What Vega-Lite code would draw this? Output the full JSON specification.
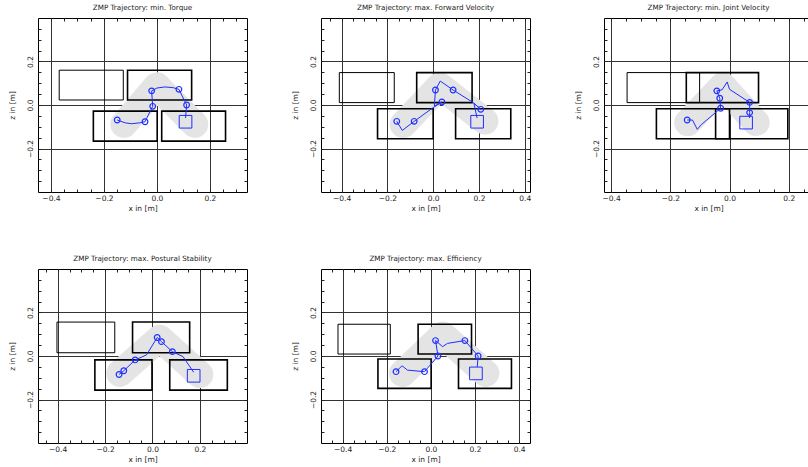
{
"$schema": "https://vega.github.io/schema/vega-lite/v6.json",
"padding": {"left": 7, "top": 3, "right": 0, "bottom": 0},
"bounds": "flush",
"columns": 3,
"spacing": {"row": 77, "column": 74},
"datasets": {
"band": [
{"p":1,"i":0,"x":-0.125,"y":-0.089},{"p":1,"i":1,"x":0.0,"y":0.088},{"p":1,"i":2,"x":0.143,"y":-0.089},
{"p":2,"i":0,"x":-0.131,"y":-0.089},{"p":2,"i":1,"x":0.029,"y":0.088},{"p":2,"i":2,"x":0.226,"y":-0.074},
{"p":3,"i":0,"x":-0.141,"y":-0.081},{"p":3,"i":1,"x":-0.023,"y":0.088},{"p":3,"i":2,"x":0.09,"y":-0.081},
{"p":4,"i":0,"x":-0.138,"y":-0.08},{"p":4,"i":1,"x":0.031,"y":0.082},{"p":4,"i":2,"x":0.2,"y":-0.085},
{"p":5,"i":0,"x":-0.129,"y":-0.08},{"p":5,"i":1,"x":0.053,"y":0.097},{"p":5,"i":2,"x":0.249,"y":-0.08}
],
"feet": [
{"p":1,"kind":"thin","x1":-0.369,"x2":-0.127,"y1":0.023,"y2":0.16},
{"p":1,"kind":"thick","x1":-0.111,"x2":0.131,"y1":0.023,"y2":0.16},
{"p":1,"kind":"thick","x1":-0.24,"x2":0.001,"y1":-0.166,"y2":-0.028},
{"p":1,"kind":"thick","x1":0.018,"x2":0.259,"y1":-0.166,"y2":-0.028},
{"p":2,"kind":"thin","x1":-0.41,"x2":-0.17,"y1":0.011,"y2":0.149},
{"p":2,"kind":"thick","x1":-0.072,"x2":0.17,"y1":0.011,"y2":0.149},
{"p":2,"kind":"thick","x1":-0.243,"x2":0.0,"y1":-0.155,"y2":-0.017},
{"p":2,"kind":"thick","x1":0.098,"x2":0.339,"y1":-0.155,"y2":-0.017},
{"p":3,"kind":"thin","x1":-0.346,"x2":-0.101,"y1":0.011,"y2":0.149},
{"p":3,"kind":"thick","x1":-0.146,"x2":0.098,"y1":0.011,"y2":0.149},
{"p":3,"kind":"thick","x1":-0.247,"x2":0.0,"y1":-0.155,"y2":-0.017},
{"p":3,"kind":"thick","x1":-0.047,"x2":0.197,"y1":-0.155,"y2":-0.017},
{"p":4,"kind":"thin","x1":-0.403,"x2":-0.159,"y1":0.015,"y2":0.156},
{"p":4,"kind":"thick","x1":-0.084,"x2":0.157,"y1":0.015,"y2":0.156},
{"p":4,"kind":"thick","x1":-0.243,"x2":-0.002,"y1":-0.157,"y2":-0.018},
{"p":4,"kind":"thick","x1":0.073,"x2":0.316,"y1":-0.157,"y2":-0.018},
{"p":5,"kind":"thin","x1":-0.421,"x2":-0.184,"y1":0.009,"y2":0.146},
{"p":5,"kind":"thick","x1":-0.058,"x2":0.184,"y1":0.009,"y2":0.146},
{"p":5,"kind":"thick","x1":-0.24,"x2":0.001,"y1":-0.149,"y2":-0.014},
{"p":5,"kind":"thick","x1":0.125,"x2":0.365,"y1":-0.149,"y2":-0.014}
],
"path": [
{"p":1,"i":0,"x":-0.15,"y":-0.069},{"p":1,"i":1,"x":-0.12,"y":-0.082},{"p":1,"i":2,"x":-0.096,"y":-0.086},{"p":1,"i":3,"x":-0.065,"y":-0.082},{"p":1,"i":4,"x":-0.045,"y":-0.077},{"p":1,"i":5,"x":-0.016,"y":-0.006},{"p":1,"i":6,"x":-0.02,"y":0.065},{"p":1,"i":7,"x":0.0,"y":0.078},{"p":1,"i":8,"x":0.03,"y":0.083},{"p":1,"i":9,"x":0.06,"y":0.08},{"p":1,"i":10,"x":0.083,"y":0.072},{"p":1,"i":11,"x":0.112,"y":0.0},{"p":1,"i":12,"x":0.108,"y":-0.06},
{"p":2,"i":0,"x":-0.159,"y":-0.075},{"p":2,"i":1,"x":-0.135,"y":-0.117},{"p":2,"i":2,"x":-0.083,"y":-0.075},{"p":2,"i":3,"x":0.0,"y":-0.012},{"p":2,"i":4,"x":0.038,"y":0.014},{"p":2,"i":5,"x":0.005,"y":-0.005},{"p":2,"i":6,"x":0.01,"y":0.069},{"p":2,"i":7,"x":0.031,"y":0.11},{"p":2,"i":8,"x":0.087,"y":0.069},{"p":2,"i":9,"x":0.175,"y":0.011},{"p":2,"i":10,"x":0.208,"y":-0.02},{"p":2,"i":11,"x":0.178,"y":0.008},{"p":2,"i":12,"x":0.192,"y":-0.06},
{"p":3,"i":0,"x":-0.143,"y":-0.069},{"p":3,"i":1,"x":-0.125,"y":-0.069},{"p":3,"i":2,"x":-0.109,"y":-0.112},{"p":3,"i":3,"x":-0.095,"y":-0.09},{"p":3,"i":4,"x":-0.03,"y":-0.015},{"p":3,"i":5,"x":-0.033,"y":0.031},{"p":3,"i":6,"x":-0.043,"y":0.065},{"p":3,"i":7,"x":-0.025,"y":0.07},{"p":3,"i":8,"x":-0.008,"y":0.106},{"p":3,"i":9,"x":0.0,"y":0.072},{"p":3,"i":10,"x":0.068,"y":0.012},{"p":3,"i":11,"x":0.068,"y":-0.035},{"p":3,"i":12,"x":0.068,"y":-0.06},
{"p":4,"i":0,"x":-0.141,"y":-0.085},{"p":4,"i":1,"x":-0.121,"y":-0.068},{"p":4,"i":2,"x":-0.073,"y":-0.018},{"p":4,"i":3,"x":-0.025,"y":0.005},{"p":4,"i":4,"x":0.02,"y":0.085},{"p":4,"i":5,"x":0.038,"y":0.066},{"p":4,"i":6,"x":0.084,"y":0.02},{"p":4,"i":7,"x":0.129,"y":-0.003},{"p":4,"i":8,"x":0.174,"y":-0.075},
{"p":5,"i":0,"x":-0.158,"y":-0.072},{"p":5,"i":1,"x":-0.131,"y":-0.045},{"p":5,"i":2,"x":-0.106,"y":-0.065},{"p":5,"i":3,"x":-0.029,"y":-0.072},{"p":5,"i":4,"x":0.032,"y":0.0},{"p":5,"i":5,"x":0.021,"y":0.071},{"p":5,"i":6,"x":0.053,"y":0.043},{"p":5,"i":7,"x":0.075,"y":0.058},{"p":5,"i":8,"x":0.154,"y":0.071},{"p":5,"i":9,"x":0.214,"y":0.0},{"p":5,"i":10,"x":0.21,"y":-0.05}
],
"pts": [
{"p":1,"t":"via","x":-0.15,"y":-0.069},{"p":1,"t":"via","x":-0.045,"y":-0.077},{"p":1,"t":"via","x":-0.016,"y":-0.006},{"p":1,"t":"via","x":-0.02,"y":0.065},{"p":1,"t":"via","x":0.083,"y":0.072},{"p":1,"t":"via","x":0.112,"y":0.0},{"p":1,"t":"end","x":0.108,"y":-0.077},
{"p":2,"t":"via","x":-0.159,"y":-0.075},{"p":2,"t":"via","x":-0.083,"y":-0.075},{"p":2,"t":"via","x":0.038,"y":0.014},{"p":2,"t":"via","x":0.01,"y":0.069},{"p":2,"t":"via","x":0.087,"y":0.069},{"p":2,"t":"via","x":0.208,"y":-0.02},{"p":2,"t":"end","x":0.192,"y":-0.077},
{"p":3,"t":"via","x":-0.143,"y":-0.069},{"p":3,"t":"via","x":-0.03,"y":-0.015},{"p":3,"t":"via","x":-0.033,"y":0.031},{"p":3,"t":"via","x":-0.043,"y":0.065},{"p":3,"t":"via","x":0.068,"y":0.012},{"p":3,"t":"via","x":0.068,"y":-0.035},{"p":3,"t":"end","x":0.056,"y":-0.081},
{"p":4,"t":"via","x":-0.141,"y":-0.085},{"p":4,"t":"via","x":-0.121,"y":-0.068},{"p":4,"t":"via","x":-0.073,"y":-0.018},{"p":4,"t":"via","x":0.02,"y":0.085},{"p":4,"t":"via","x":0.038,"y":0.066},{"p":4,"t":"via","x":0.084,"y":0.02},{"p":4,"t":"end","x":0.174,"y":-0.091},
{"p":5,"t":"via","x":-0.158,"y":-0.072},{"p":5,"t":"via","x":-0.029,"y":-0.072},{"p":5,"t":"via","x":0.032,"y":0.0},{"p":5,"t":"via","x":0.021,"y":0.071},{"p":5,"t":"via","x":0.154,"y":0.071},{"p":5,"t":"via","x":0.214,"y":0.0},{"p":5,"t":"end","x":0.204,"y":-0.08}
]
},
"concat": [
{"title": "ZMP Trajectory: min. Torque", "width": 209, "height": 174,
 "resolve": {"axis": {"x": "independent", "y": "independent"}},
 "layer": [
  {"data": {"name": "band"}, "transform": [{"filter": "datum.p == 1"}],
   "mark": {"type": "line", "color": "#e4e4e4", "strokeWidth": 27, "strokeCap": "round", "strokeJoin": "round"},
   "encoding": {
    "x": {"field": "x", "type": "quantitative", "scale": {"domain": [-0.449, 0.34], "nice": false, "zero": false},
      "axis": {"orient": "bottom", "title": "x in [m]", "values": [-0.4,-0.35,-0.3,-0.25,-0.2,-0.15,-0.1,-0.05,0,0.05,0.1,0.15,0.2,0.25,0.3],
        "labelExpr": "abs(datum.value*5 - round(datum.value*5)) < 0.001 ? format(datum.value, '.1f') : ''",
        "gridOpacity": {"condition": {"test": "abs(datum.value*5 - round(datum.value*5)) < 0.001", "value": 1}, "value": 0}}},
    "y": {"field": "y", "type": "quantitative", "scale": {"domain": [-0.4, 0.4], "nice": false, "zero": false},
      "axis": {"orient": "left", "title": "z in [m]", "values": [-0.35,-0.3,-0.25,-0.2,-0.15,-0.1,-0.05,0,0.05,0.1,0.15,0.2,0.25,0.3,0.35], "labelAngle": 270,
        "labelExpr": "abs(datum.value*5 - round(datum.value*5)) < 0.001 ? format(datum.value, '.1f') : ''",
        "gridOpacity": {"condition": {"test": "abs(datum.value*5 - round(datum.value*5)) < 0.001", "value": 1}, "value": 0}}},
    "order": {"field": "i", "type": "quantitative"}}},
  {"data": {"name": "feet"}, "transform": [{"filter": "datum.p == 1"}],
   "mark": {"type": "rect", "filled": false, "color": "black"},
   "encoding": {
    "x": {"field": "x1", "type": "quantitative", "scale": {"domain": [-0.449, 0.34], "nice": false, "zero": false},
      "axis": {"orient": "top", "title": null, "labels": false, "grid": false, "values": [-0.4,-0.35,-0.3,-0.25,-0.2,-0.15,-0.1,-0.05,0,0.05,0.1,0.15,0.2,0.25,0.3]}},
    "x2": {"field": "x2"},
    "y": {"field": "y1", "type": "quantitative", "scale": {"domain": [-0.4, 0.4], "nice": false, "zero": false},
      "axis": {"orient": "right", "title": null, "labels": false, "grid": false, "values": [-0.35,-0.3,-0.25,-0.2,-0.15,-0.1,-0.05,0,0.05,0.1,0.15,0.2,0.25,0.3,0.35]}},
    "y2": {"field": "y2"},
    "strokeWidth": {"field": "kind", "type": "ordinal", "scale": {"domain": ["thin", "thick"], "range": [1, 1.6]}, "legend": null}}},
  {"data": {"name": "path"}, "transform": [{"filter": "datum.p == 1"}],
   "mark": {"type": "line", "color": "#1f2fff", "strokeWidth": 1},
   "encoding": {"x": {"field": "x", "type": "quantitative", "axis": null}, "y": {"field": "y", "type": "quantitative", "axis": null}, "order": {"field": "i", "type": "quantitative"}}},
  {"data": {"name": "pts"}, "transform": [{"filter": "datum.p == 1 && datum.t == 'via'"}],
   "mark": {"type": "point", "shape": "circle", "filled": false, "color": "#1f2fff", "size": 32, "strokeWidth": 1.2, "opacity": 1},
   "encoding": {"x": {"field": "x", "type": "quantitative", "axis": null}, "y": {"field": "y", "type": "quantitative", "axis": null}}},
  {"data": {"name": "pts"}, "transform": [{"filter": "datum.p == 1 && datum.t == 'end'"}],
   "mark": {"type": "point", "shape": "square", "filled": false, "color": "#1f2fff", "size": 160, "strokeWidth": 1, "opacity": 1},
   "encoding": {"x": {"field": "x", "type": "quantitative", "axis": null}, "y": {"field": "y", "type": "quantitative", "axis": null}}}
 ]},
{"title": "ZMP Trajectory: max. Forward Velocity", "width": 209, "height": 174,
 "resolve": {"axis": {"x": "independent", "y": "independent"}},
 "layer": [
  {"data": {"name": "band"}, "transform": [{"filter": "datum.p == 2"}],
   "mark": {"type": "line", "color": "#e4e4e4", "strokeWidth": 27, "strokeCap": "round", "strokeJoin": "round"},
   "encoding": {
    "x": {"field": "x", "type": "quantitative", "scale": {"domain": [-0.49, 0.423], "nice": false, "zero": false},
      "axis": {"orient": "bottom", "title": "x in [m]", "values": [-0.45,-0.4,-0.35,-0.3,-0.25,-0.2,-0.15,-0.1,-0.05,0,0.05,0.1,0.15,0.2,0.25,0.3,0.35,0.4],
        "labelExpr": "abs(datum.value*5 - round(datum.value*5)) < 0.001 ? format(datum.value, '.1f') : ''",
        "gridOpacity": {"condition": {"test": "abs(datum.value*5 - round(datum.value*5)) < 0.001", "value": 1}, "value": 0}}},
    "y": {"field": "y", "type": "quantitative", "scale": {"domain": [-0.4, 0.4], "nice": false, "zero": false},
      "axis": {"orient": "left", "title": "z in [m]", "values": [-0.35,-0.3,-0.25,-0.2,-0.15,-0.1,-0.05,0,0.05,0.1,0.15,0.2,0.25,0.3,0.35], "labelAngle": 270,
        "labelExpr": "abs(datum.value*5 - round(datum.value*5)) < 0.001 ? format(datum.value, '.1f') : ''",
        "gridOpacity": {"condition": {"test": "abs(datum.value*5 - round(datum.value*5)) < 0.001", "value": 1}, "value": 0}}},
    "order": {"field": "i", "type": "quantitative"}}},
  {"data": {"name": "feet"}, "transform": [{"filter": "datum.p == 2"}],
   "mark": {"type": "rect", "filled": false, "color": "black"},
   "encoding": {
    "x": {"field": "x1", "type": "quantitative", "scale": {"domain": [-0.49, 0.423], "nice": false, "zero": false},
      "axis": {"orient": "top", "title": null, "labels": false, "grid": false, "values": [-0.45,-0.4,-0.35,-0.3,-0.25,-0.2,-0.15,-0.1,-0.05,0,0.05,0.1,0.15,0.2,0.25,0.3,0.35,0.4]}},
    "x2": {"field": "x2"},
    "y": {"field": "y1", "type": "quantitative", "scale": {"domain": [-0.4, 0.4], "nice": false, "zero": false},
      "axis": {"orient": "right", "title": null, "labels": false, "grid": false, "values": [-0.35,-0.3,-0.25,-0.2,-0.15,-0.1,-0.05,0,0.05,0.1,0.15,0.2,0.25,0.3,0.35]}},
    "y2": {"field": "y2"},
    "strokeWidth": {"field": "kind", "type": "ordinal", "scale": {"domain": ["thin", "thick"], "range": [1, 1.6]}, "legend": null}}},
  {"data": {"name": "path"}, "transform": [{"filter": "datum.p == 2"}],
   "mark": {"type": "line", "color": "#1f2fff", "strokeWidth": 1},
   "encoding": {"x": {"field": "x", "type": "quantitative", "axis": null}, "y": {"field": "y", "type": "quantitative", "axis": null}, "order": {"field": "i", "type": "quantitative"}}},
  {"data": {"name": "pts"}, "transform": [{"filter": "datum.p == 2 && datum.t == 'via'"}],
   "mark": {"type": "point", "shape": "circle", "filled": false, "color": "#1f2fff", "size": 32, "strokeWidth": 1.2, "opacity": 1},
   "encoding": {"x": {"field": "x", "type": "quantitative", "axis": null}, "y": {"field": "y", "type": "quantitative", "axis": null}}},
  {"data": {"name": "pts"}, "transform": [{"filter": "datum.p == 2 && datum.t == 'end'"}],
   "mark": {"type": "point", "shape": "square", "filled": false, "color": "#1f2fff", "size": 160, "strokeWidth": 1, "opacity": 1},
   "encoding": {"x": {"field": "x", "type": "quantitative", "axis": null}, "y": {"field": "y", "type": "quantitative", "axis": null}}}
 ]},
{"title": "ZMP Trajectory: min. Joint Velocity", "width": 209, "height": 174,
 "resolve": {"axis": {"x": "independent", "y": "independent"}},
 "layer": [
  {"data": {"name": "band"}, "transform": [{"filter": "datum.p == 3"}],
   "mark": {"type": "line", "color": "#e4e4e4", "strokeWidth": 27, "strokeCap": "round", "strokeJoin": "round"},
   "encoding": {
    "x": {"field": "x", "type": "quantitative", "scale": {"domain": [-0.424, 0.282], "nice": false, "zero": false},
      "axis": {"orient": "bottom", "title": "x in [m]", "values": [-0.4,-0.35,-0.3,-0.25,-0.2,-0.15,-0.1,-0.05,0,0.05,0.1,0.15,0.2,0.25],
        "labelExpr": "abs(datum.value*5 - round(datum.value*5)) < 0.001 ? format(datum.value, '.1f') : ''",
        "gridOpacity": {"condition": {"test": "abs(datum.value*5 - round(datum.value*5)) < 0.001", "value": 1}, "value": 0}}},
    "y": {"field": "y", "type": "quantitative", "scale": {"domain": [-0.4, 0.4], "nice": false, "zero": false},
      "axis": {"orient": "left", "title": "z in [m]", "values": [-0.35,-0.3,-0.25,-0.2,-0.15,-0.1,-0.05,0,0.05,0.1,0.15,0.2,0.25,0.3,0.35], "labelAngle": 270,
        "labelExpr": "abs(datum.value*5 - round(datum.value*5)) < 0.001 ? format(datum.value, '.1f') : ''",
        "gridOpacity": {"condition": {"test": "abs(datum.value*5 - round(datum.value*5)) < 0.001", "value": 1}, "value": 0}}},
    "order": {"field": "i", "type": "quantitative"}}},
  {"data": {"name": "feet"}, "transform": [{"filter": "datum.p == 3"}],
   "mark": {"type": "rect", "filled": false, "color": "black"},
   "encoding": {
    "x": {"field": "x1", "type": "quantitative", "scale": {"domain": [-0.424, 0.282], "nice": false, "zero": false},
      "axis": {"orient": "top", "title": null, "labels": false, "grid": false, "values": [-0.4,-0.35,-0.3,-0.25,-0.2,-0.15,-0.1,-0.05,0,0.05,0.1,0.15,0.2,0.25]}},
    "x2": {"field": "x2"},
    "y": {"field": "y1", "type": "quantitative", "scale": {"domain": [-0.4, 0.4], "nice": false, "zero": false},
      "axis": {"orient": "right", "title": null, "labels": false, "grid": false, "values": [-0.35,-0.3,-0.25,-0.2,-0.15,-0.1,-0.05,0,0.05,0.1,0.15,0.2,0.25,0.3,0.35]}},
    "y2": {"field": "y2"},
    "strokeWidth": {"field": "kind", "type": "ordinal", "scale": {"domain": ["thin", "thick"], "range": [1, 1.6]}, "legend": null}}},
  {"data": {"name": "path"}, "transform": [{"filter": "datum.p == 3"}],
   "mark": {"type": "line", "color": "#1f2fff", "strokeWidth": 1},
   "encoding": {"x": {"field": "x", "type": "quantitative", "axis": null}, "y": {"field": "y", "type": "quantitative", "axis": null}, "order": {"field": "i", "type": "quantitative"}}},
  {"data": {"name": "pts"}, "transform": [{"filter": "datum.p == 3 && datum.t == 'via'"}],
   "mark": {"type": "point", "shape": "circle", "filled": false, "color": "#1f2fff", "size": 32, "strokeWidth": 1.2, "opacity": 1},
   "encoding": {"x": {"field": "x", "type": "quantitative", "axis": null}, "y": {"field": "y", "type": "quantitative", "axis": null}}},
  {"data": {"name": "pts"}, "transform": [{"filter": "datum.p == 3 && datum.t == 'end'"}],
   "mark": {"type": "point", "shape": "square", "filled": false, "color": "#1f2fff", "size": 160, "strokeWidth": 1, "opacity": 1},
   "encoding": {"x": {"field": "x", "type": "quantitative", "axis": null}, "y": {"field": "y", "type": "quantitative", "axis": null}}}
 ]},
{"title": "ZMP Trajectory: max. Postural Stability", "width": 209, "height": 174,
 "resolve": {"axis": {"x": "independent", "y": "independent"}},
 "layer": [
  {"data": {"name": "band"}, "transform": [{"filter": "datum.p == 4"}],
   "mark": {"type": "line", "color": "#e4e4e4", "strokeWidth": 27, "strokeCap": "round", "strokeJoin": "round"},
   "encoding": {
    "x": {"field": "x", "type": "quantitative", "scale": {"domain": [-0.483, 0.399], "nice": false, "zero": false},
      "axis": {"orient": "bottom", "title": "x in [m]", "values": [-0.45,-0.4,-0.35,-0.3,-0.25,-0.2,-0.15,-0.1,-0.05,0,0.05,0.1,0.15,0.2,0.25,0.3,0.35],
        "labelExpr": "abs(datum.value*5 - round(datum.value*5)) < 0.001 ? format(datum.value, '.1f') : ''",
        "gridOpacity": {"condition": {"test": "abs(datum.value*5 - round(datum.value*5)) < 0.001", "value": 1}, "value": 0}}},
    "y": {"field": "y", "type": "quantitative", "scale": {"domain": [-0.4, 0.4], "nice": false, "zero": false},
      "axis": {"orient": "left", "title": "z in [m]", "values": [-0.35,-0.3,-0.25,-0.2,-0.15,-0.1,-0.05,0,0.05,0.1,0.15,0.2,0.25,0.3,0.35], "labelAngle": 270,
        "labelExpr": "abs(datum.value*5 - round(datum.value*5)) < 0.001 ? format(datum.value, '.1f') : ''",
        "gridOpacity": {"condition": {"test": "abs(datum.value*5 - round(datum.value*5)) < 0.001", "value": 1}, "value": 0}}},
    "order": {"field": "i", "type": "quantitative"}}},
  {"data": {"name": "feet"}, "transform": [{"filter": "datum.p == 4"}],
   "mark": {"type": "rect", "filled": false, "color": "black"},
   "encoding": {
    "x": {"field": "x1", "type": "quantitative", "scale": {"domain": [-0.483, 0.399], "nice": false, "zero": false},
      "axis": {"orient": "top", "title": null, "labels": false, "grid": false, "values": [-0.45,-0.4,-0.35,-0.3,-0.25,-0.2,-0.15,-0.1,-0.05,0,0.05,0.1,0.15,0.2,0.25,0.3,0.35]}},
    "x2": {"field": "x2"},
    "y": {"field": "y1", "type": "quantitative", "scale": {"domain": [-0.4, 0.4], "nice": false, "zero": false},
      "axis": {"orient": "right", "title": null, "labels": false, "grid": false, "values": [-0.35,-0.3,-0.25,-0.2,-0.15,-0.1,-0.05,0,0.05,0.1,0.15,0.2,0.25,0.3,0.35]}},
    "y2": {"field": "y2"},
    "strokeWidth": {"field": "kind", "type": "ordinal", "scale": {"domain": ["thin", "thick"], "range": [1, 1.6]}, "legend": null}}},
  {"data": {"name": "path"}, "transform": [{"filter": "datum.p == 4"}],
   "mark": {"type": "line", "color": "#1f2fff", "strokeWidth": 1},
   "encoding": {"x": {"field": "x", "type": "quantitative", "axis": null}, "y": {"field": "y", "type": "quantitative", "axis": null}, "order": {"field": "i", "type": "quantitative"}}},
  {"data": {"name": "pts"}, "transform": [{"filter": "datum.p == 4 && datum.t == 'via'"}],
   "mark": {"type": "point", "shape": "circle", "filled": false, "color": "#1f2fff", "size": 32, "strokeWidth": 1.2, "opacity": 1},
   "encoding": {"x": {"field": "x", "type": "quantitative", "axis": null}, "y": {"field": "y", "type": "quantitative", "axis": null}}},
  {"data": {"name": "pts"}, "transform": [{"filter": "datum.p == 4 && datum.t == 'end'"}],
   "mark": {"type": "point", "shape": "square", "filled": false, "color": "#1f2fff", "size": 160, "strokeWidth": 1, "opacity": 1},
   "encoding": {"x": {"field": "x", "type": "quantitative", "axis": null}, "y": {"field": "y", "type": "quantitative", "axis": null}}}
 ]},
{"title": "ZMP Trajectory: max. Efficiency", "width": 209, "height": 174,
 "resolve": {"axis": {"x": "independent", "y": "independent"}},
 "layer": [
  {"data": {"name": "band"}, "transform": [{"filter": "datum.p == 5"}],
   "mark": {"type": "line", "color": "#e4e4e4", "strokeWidth": 27, "strokeCap": "round", "strokeJoin": "round"},
   "encoding": {
    "x": {"field": "x", "type": "quantitative", "scale": {"domain": [-0.498, 0.449], "nice": false, "zero": false},
      "axis": {"orient": "bottom", "title": "x in [m]", "values": [-0.45,-0.4,-0.35,-0.3,-0.25,-0.2,-0.15,-0.1,-0.05,0,0.05,0.1,0.15,0.2,0.25,0.3,0.35,0.4],
        "labelExpr": "abs(datum.value*5 - round(datum.value*5)) < 0.001 ? format(datum.value, '.1f') : ''",
        "gridOpacity": {"condition": {"test": "abs(datum.value*5 - round(datum.value*5)) < 0.001", "value": 1}, "value": 0}}},
    "y": {"field": "y", "type": "quantitative", "scale": {"domain": [-0.4, 0.4], "nice": false, "zero": false},
      "axis": {"orient": "left", "title": "z in [m]", "values": [-0.35,-0.3,-0.25,-0.2,-0.15,-0.1,-0.05,0,0.05,0.1,0.15,0.2,0.25,0.3,0.35], "labelAngle": 270,
        "labelExpr": "abs(datum.value*5 - round(datum.value*5)) < 0.001 ? format(datum.value, '.1f') : ''",
        "gridOpacity": {"condition": {"test": "abs(datum.value*5 - round(datum.value*5)) < 0.001", "value": 1}, "value": 0}}},
    "order": {"field": "i", "type": "quantitative"}}},
  {"data": {"name": "feet"}, "transform": [{"filter": "datum.p == 5"}],
   "mark": {"type": "rect", "filled": false, "color": "black"},
   "encoding": {
    "x": {"field": "x1", "type": "quantitative", "scale": {"domain": [-0.498, 0.449], "nice": false, "zero": false},
      "axis": {"orient": "top", "title": null, "labels": false, "grid": false, "values": [-0.45,-0.4,-0.35,-0.3,-0.25,-0.2,-0.15,-0.1,-0.05,0,0.05,0.1,0.15,0.2,0.25,0.3,0.35,0.4]}},
    "x2": {"field": "x2"},
    "y": {"field": "y1", "type": "quantitative", "scale": {"domain": [-0.4, 0.4], "nice": false, "zero": false},
      "axis": {"orient": "right", "title": null, "labels": false, "grid": false, "values": [-0.35,-0.3,-0.25,-0.2,-0.15,-0.1,-0.05,0,0.05,0.1,0.15,0.2,0.25,0.3,0.35]}},
    "y2": {"field": "y2"},
    "strokeWidth": {"field": "kind", "type": "ordinal", "scale": {"domain": ["thin", "thick"], "range": [1, 1.6]}, "legend": null}}},
  {"data": {"name": "path"}, "transform": [{"filter": "datum.p == 5"}],
   "mark": {"type": "line", "color": "#1f2fff", "strokeWidth": 1},
   "encoding": {"x": {"field": "x", "type": "quantitative", "axis": null}, "y": {"field": "y", "type": "quantitative", "axis": null}, "order": {"field": "i", "type": "quantitative"}}},
  {"data": {"name": "pts"}, "transform": [{"filter": "datum.p == 5 && datum.t == 'via'"}],
   "mark": {"type": "point", "shape": "circle", "filled": false, "color": "#1f2fff", "size": 32, "strokeWidth": 1.2, "opacity": 1},
   "encoding": {"x": {"field": "x", "type": "quantitative", "axis": null}, "y": {"field": "y", "type": "quantitative", "axis": null}}},
  {"data": {"name": "pts"}, "transform": [{"filter": "datum.p == 5 && datum.t == 'end'"}],
   "mark": {"type": "point", "shape": "square", "filled": false, "color": "#1f2fff", "size": 160, "strokeWidth": 1, "opacity": 1},
   "encoding": {"x": {"field": "x", "type": "quantitative", "axis": null}, "y": {"field": "y", "type": "quantitative", "axis": null}}}
 ]}
],
"config": {
 "font": "DejaVu Sans",
 "view": {"stroke": "black", "strokeWidth": 1},
 "title": {"fontSize": 7.2, "fontWeight": "normal", "color": "#222", "offset": 6, "font": "DejaVu Sans"},
 "axis": {"domain": false, "grid": true, "gridColor": "#333", "gridWidth": 1, "tickColor": "#222", "tickSize": -3, "tickWidth": 1,
   "labelFont": "DejaVu Sans", "labelFontSize": 7.5, "labelColor": "#222", "labelPadding": 5, "labelOverlap": false, "labelFlush": false,
   "titleFont": "DejaVu Sans", "titleFontSize": 7.5, "titleFontWeight": "normal", "titleColor": "#222", "titlePadding": 3},
 "axisY": {"labelPadding": 7, "titlePadding": 10}
}
}
